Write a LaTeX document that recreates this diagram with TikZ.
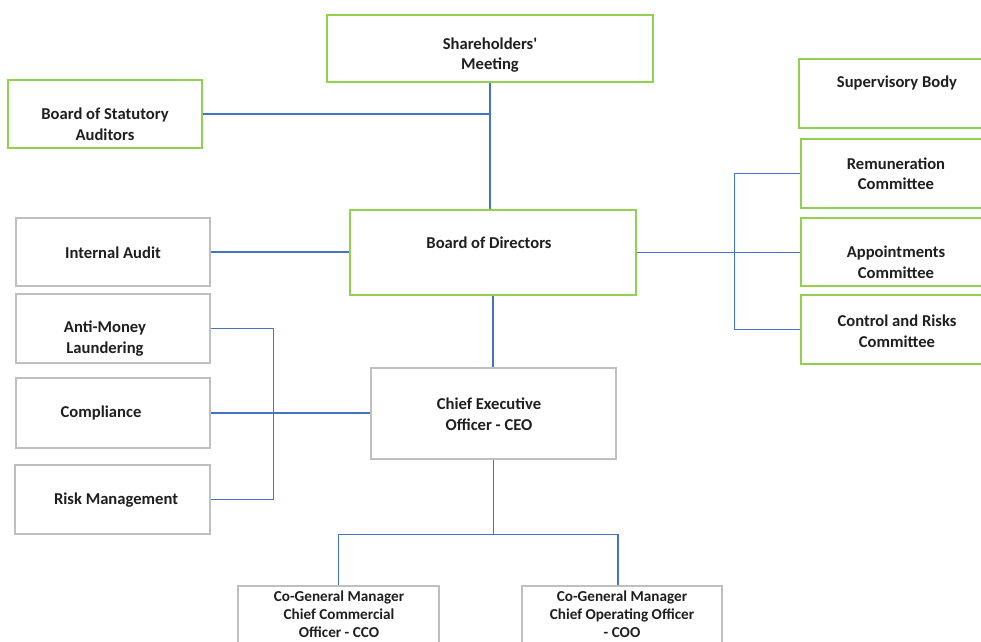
\documentclass[tikz,border=0pt]{standalone}
\usepackage{fontspec}
\setmainfont{Carlito}
\definecolor{gbord}{HTML}{92D050}
\definecolor{grbord}{HTML}{BFBFBF}
\definecolor{lblue}{HTML}{4472C4}
\definecolor{txtc}{HTML}{1F1F1F}
\begin{document}
\begin{tikzpicture}[x=1pt,y=-1pt,
  gbox/.style={draw=gbord,line width=1.3pt,inner sep=0pt,fill=white},
  graybox/.style={draw=grbord,line width=1.3pt,inner sep=0pt,fill=white},
  txt/.style={align=center,font=\fontsize{16.6}{20.5}\selectfont\bfseries,text=txtc,inner sep=0pt},
  smalltxt/.style={txt,font=\fontsize{15.2}{18}\selectfont\bfseries},
  conn/.style={draw=lblue,line width=1.2pt}]
\useasboundingbox (0,0) rectangle (981,641);
\clip (0,0) rectangle (981,641);
% boxes
\node[gbox,minimum width=326pt,minimum height=67pt] (sh) at (490,48.5) {};
\node[gbox,minimum width=194pt,minimum height=68pt] (sba) at (105,114) {};
\node[gbox,minimum width=201pt,minimum height=69pt] (sup) at (899.5,93.5) {};
\node[gbox,minimum width=200pt,minimum height=69pt] (rem) at (901,173.5) {};
\node[gbox,minimum width=200pt,minimum height=68pt] (app) at (901,252) {};
\node[gbox,minimum width=200pt,minimum height=69pt] (ctl) at (901,329.5) {};
\node[gbox,minimum width=286pt,minimum height=85pt] (bod) at (493,252.5) {};
\node[graybox,minimum width=194pt,minimum height=68pt] (ia) at (113,252) {};
\node[graybox,minimum width=194pt,minimum height=69pt] (aml) at (113,328.5) {};
\node[graybox,minimum width=194pt,minimum height=70pt] (comp) at (113,413) {};
\node[graybox,minimum width=195pt,minimum height=69pt] (risk) at (112.5,499.5) {};
\node[graybox,minimum width=245pt,minimum height=91pt] (ceo) at (493.5,413.5) {};
\node[graybox,minimum width=201pt,minimum height=84pt] (cco) at (338.5,628) {};
\node[graybox,minimum width=200pt,minimum height=84pt] (coo) at (622,628) {};
% texts
\node[txt] (sht) at (490,55) {Shareholders\textquotesingle\\Meeting};
\node[txt] (sbat) at (105,124) {Board of Statutory\\Auditors};
\node[txt] (supt) at (897,83) {Supervisory Body};
\node[txt] (remt) at (896,173.5) {Remuneration\\Committee};
\node[txt] (appt) at (896,262) {Appointments\\Committee};
\node[txt] (ctlt) at (897,331) {Control and Risks\\Committee};
\node[txt] (bodt) at (489,243) {Board of Directors};
\node[txt] (iat) at (113,253) {Internal Audit};
\node[txt] (amlt) at (105,338.5) {Anti-Money\\Laundering};
\node[txt] (compt) at (101,413) {Compliance};
\node[txt] (riskt) at (116,500) {Risk Management};
\node[txt] (ceot) at (489,414) {Chief Executive\\Officer - CEO};
\node[smalltxt] (ccot) at (339,614) {Co-General Manager\\Chief Commercial\\Officer - CCO};
\node[smalltxt] (coot) at (622,614.5) {Co-General Manager\\Chief Operating Officer\\- COO};
% connectors
\draw[conn] (sh.south) -- (sh.south |- bod.north);
\draw[conn] (sba.east) -- (sba.east -| sh.south);
\draw[conn] (ia.east) -- (ia.east -| bod.west);
\draw[conn] (bod.south) -- (bod.south |- ceo.north);
\draw[conn] (bod.east) -- (bod.east -| app.west);
\draw[conn] (rem.west) -- ++(-66,0) coordinate (rbus) |- (ctl.west);
\draw[conn] (comp.east) -- (comp.east -| ceo.west);
\draw[conn] (aml.east) -- ++(63,0) coordinate (lbus) |- (risk.east);
\draw[conn] (ceo.south) -- ++(0,75) coordinate (cbus);
\draw[conn] (cbus) -| (cco.north);
\draw[conn] (cbus) -| ([xshift=-4pt]coo.north);
\end{tikzpicture}
\end{document}
